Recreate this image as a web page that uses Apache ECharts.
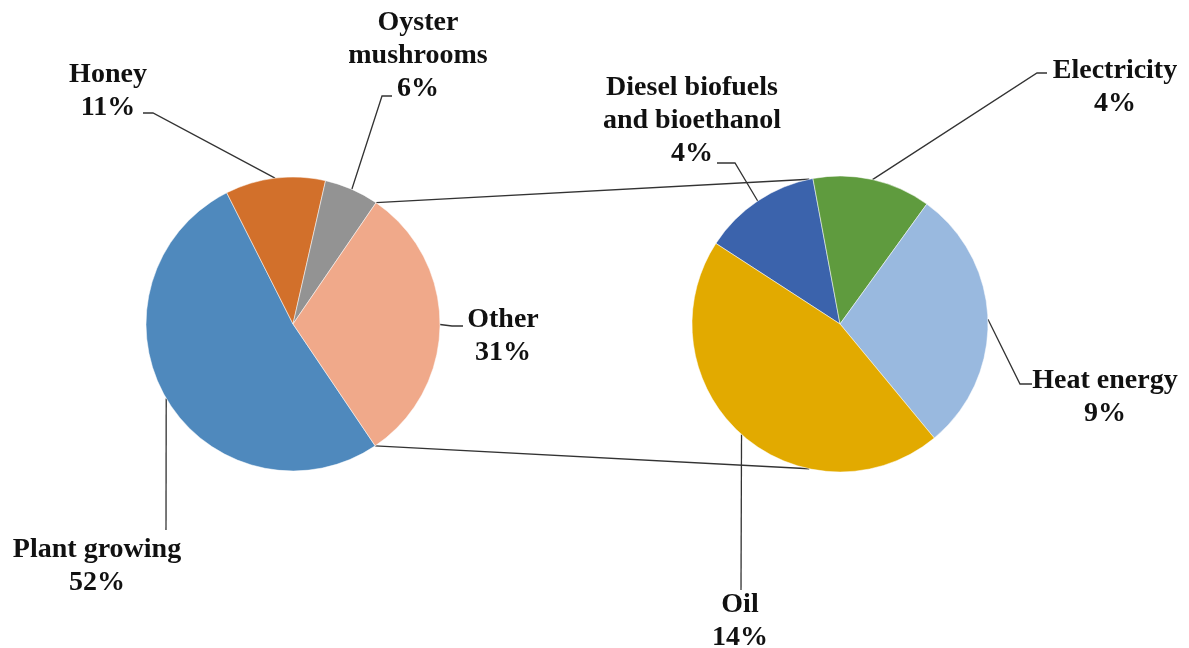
<!DOCTYPE html>
<html>
<head>
<meta charset="utf-8">
<title>Pie of pie</title>
<script src="https://cdn.jsdelivr.net/npm/echarts@6/dist/echarts.min.js"></script>
<style>
  html, body { margin: 0; padding: 0; background: #fff; }
  #chart { width: 1189px; height: 648px; }
</style>
</head>
<body>
<div id="chart"></div>
<script>
// main pie
var leftNames = ['Plant growing', 'Honey', 'Oyster\nmushrooms', 'Other'];
var leftValues = [52, 11, 6, 31];
// breakdown of "Other"
var rightNames = ['Diesel biofuels\nand bioethanol', 'Electricity', 'Heat energy', 'Oil'];
var rightValues = [4, 4, 9, 14];

var leftColors = ['#4f89bd', '#d2702b', '#939393', '#f0a98a'];
var rightColors = ['#3b63ac', '#5f9b3e', '#99b9df', '#e2aa00'];

var leftCenter = [293, 324], leftR = 147, leftStart = -56;
var rightCenter = [840, 324], rightR = 148, rightStart = 147;

// label placement (centre of text block) and leader bend/end
var labelPlace = [
  [
    { x: 97, y: 566, bend: [166, 530], end: [166, 530] },
    { x: 108, y: 91, bend: [153, 113], end: [143, 113] },
    { x: 418, y: 56, bend: [382, 96], end: [392, 96] },
    { x: 503, y: 336, bend: [452, 326], end: [463, 326] }
  ],
  [
    { x: 692, y: 121, bend: [735, 163], end: [717, 163] },
    { x: 1115, y: 87, bend: [1037, 73], end: [1047, 73] },
    { x: 1105, y: 397, bend: [1020, 384], end: [1032, 384] },
    { x: 740, y: 621, bend: [741, 590], end: [741, 590] }
  ]
];

function edgePt(c, r, deg) {
  var a = deg * Math.PI / 180;
  return [c[0] + r * Math.sin(a), c[1] - r * Math.cos(a)];
}

// connector lines from the "Other" slice edges to the secondary pie
var total = leftValues.reduce(function (s, v) { return s + v; }, 0);
var beforeOther = leftValues.slice(0, 3).reduce(function (s, v) { return s + v; }, 0);
var otherFrom = 90 - leftStart + 360 * beforeOther / total;
var otherTo = 90 - leftStart + 360;
var pTop = edgePt(leftCenter, leftR, otherFrom);
var pBot = edgePt(leftCenter, leftR, otherTo);
var qTop = edgePt(rightCenter, rightR, -12);
var qBot = edgePt(rightCenter, rightR, 192);

var chart = echarts.init(document.getElementById('chart'));

function makeData(names, values, colors) {
  return names.map(function (n, i) {
    return { name: n, value: values[i], itemStyle: { color: colors[i] } };
  });
}

var labelStyle = {
  show: true,
  formatter: '{b}\n{c}%',
  fontFamily: '"Liberation Serif", "Times New Roman", serif',
  fontWeight: 'bold',
  fontSize: 28,
  lineHeight: 33,
  color: '#111',
  align: 'center',
  overflow: 'none',
  edgeDistance: 0,
  bleedMargin: 0
};

function layoutFn(params) {
  var p = labelPlace[params.seriesIndex][params.dataIndex];
  var pts = params.labelLinePoints;
  var out = { x: p.x, y: p.y, align: 'center', verticalAlign: 'middle' };
  if (pts) out.labelLinePoints = [pts[0], p.bend, p.end];
  return out;
}

var option = {
  backgroundColor: '#fff',
  animation: false,
  graphic: [
    { type: 'line', z: 1, shape: { x1: pTop[0], y1: pTop[1], x2: qTop[0], y2: qTop[1] },
      style: { stroke: '#333', lineWidth: 1.3 } },
    { type: 'line', z: 1, shape: { x1: pBot[0], y1: pBot[1], x2: qBot[0], y2: qBot[1] },
      style: { stroke: '#333', lineWidth: 1.3 } }
  ],
  series: [
    {
      type: 'pie',
      center: leftCenter,
      radius: leftR,
      startAngle: leftStart,
      clockwise: true,
      data: makeData(leftNames, leftValues, leftColors),
      itemStyle: { borderColor: '#fff', borderWidth: 0.5 },
      label: labelStyle,
      labelLine: { show: true, lineStyle: { color: '#333', width: 1.3 } },
      labelLayout: layoutFn,
      emphasis: { disabled: true }
    },
    {
      type: 'pie',
      center: rightCenter,
      radius: rightR,
      startAngle: rightStart,
      clockwise: true,
      data: makeData(rightNames, rightValues, rightColors),
      itemStyle: { borderColor: '#fff', borderWidth: 0.5 },
      label: labelStyle,
      labelLine: { show: true, lineStyle: { color: '#333', width: 1.3 } },
      labelLayout: layoutFn,
      emphasis: { disabled: true }
    }
  ]
};

chart.setOption(option);
</script>
</body>
</html>
